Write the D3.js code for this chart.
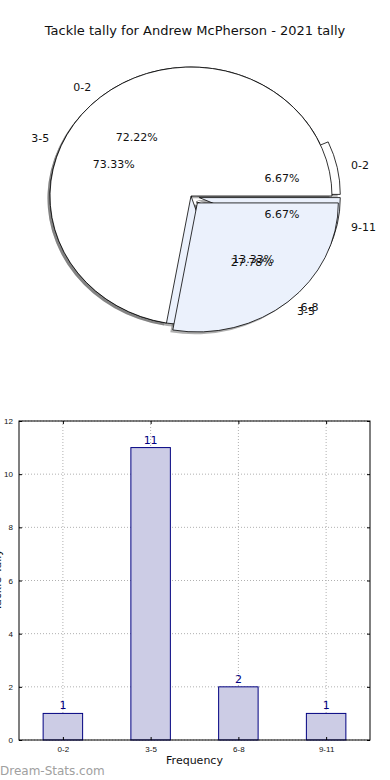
<!DOCTYPE html>
<html>
<head>
<meta charset="utf-8">
<script src="https://cdnjs.cloudflare.com/ajax/libs/d3/7.8.5/d3.min.js"></script>
<style>
  html, body { margin: 0; padding: 0; background: #fff; }
  svg { display: block; font-family: "DejaVu Sans", sans-serif; }
</style>
</head>
<body>
<div id="chart"></div>
<script>
// bins used by both charts
const categories = ['0-2', '3-5', '6-8', '9-11'];
const tallyValues = [1, 11, 2, 1];

// first pie (two slices)
const pieACategories = ['0-2', '3-5'];
const pieAValues = [13, 5];
const pieAExplode = [0, 0.07];
const pieAColors = ['#ffffff', '#ebf1fc'];

// second pie uses the tallies
const pieBExplode = [0.06, 0, 0.06, 0.06];
const pieBColors = ['#ffffff', '#ebf1fc', '#ffffff', '#ebf1fc'];

const yTicks = [0, 2, 4, 6, 8, 10, 12];

const W = 390, H = 780;
const svg = d3.select('#chart').append('svg').attr('width', W).attr('height', H);

svg.append('text')
    .attr('x', 195).attr('y', 35)
    .attr('text-anchor', 'middle')
    .style('font-size', '13px')
    .attr('fill', '#111')
    .text('Tackle tally for Andrew McPherson - 2021 tally');

// --- pies (ellipse: unit arcs scaled) ---
const cx = 191, cy = 196, rx = 141, ry = 129;
const arcUnit = d3.arc().innerRadius(0).outerRadius(1);
// matplotlib style: start at east, go counter-clockwise
const pieGen = d3.pie().sort(null).startAngle(Math.PI / 2).endAngle(Math.PI / 2 - 2 * Math.PI);

function buildPie(cats, values, explode, colors) {
    const total = d3.sum(values);
    return pieGen(values).map((d, i) => {
        const mid = (d.startAngle + d.endAngle) / 2;
        const ux = Math.sin(mid), uy = -Math.cos(mid);
        return {
            arc: d, cat: cats[i], color: colors[i],
            pct: (100 * values[i] / total).toFixed(2) + '%',
            ux, uy, ex: explode[i] * ux, ey: explode[i] * uy
        };
    });
}

const pieA = buildPie(pieACategories, pieAValues, pieAExplode, pieAColors);
const pieB = buildPie(categories, tallyValues, pieBExplode, pieBColors);

const pieLayer = svg.append('g').attr('transform', `translate(${cx},${cy}) scale(${rx},${ry})`);

// shadows first
[pieB, pieA].forEach(p => {
    pieLayer.append('g').selectAll('path').data(p).enter().append('path')
        .attr('transform', d => `translate(${d.ex - 0.018},${d.ey + 0.018})`)
        .attr('d', d => arcUnit(d.arc))
        .attr('fill', '#4d4d4d')
        .attr('fill-opacity', 0.45);
});

// wedges: second pie underneath, first on top
[pieB, pieA].forEach(p => {
    pieLayer.append('g').selectAll('path').data(p).enter().append('path')
        .attr('transform', d => `translate(${d.ex},${d.ey})`)
        .attr('d', d => arcUnit(d.arc))
        .attr('fill', d => d.color)
        .attr('stroke', '#000')
        .attr('stroke-width', 0.8)
        .attr('vector-effect', 'non-scaling-stroke');
});

// labels above all wedges
[pieB, pieA].forEach(p => {
    const g = svg.append('g').style('font-size', '11px').attr('fill', '#111');
    g.selectAll('.lab').data(p).enter().append('text')
        .attr('x', d => cx + rx * (1.1 * d.ux + d.ex))
        .attr('y', d => cy + ry * (1.1 * d.uy + d.ey))
        .attr('dy', '0.35em')
        .attr('text-anchor', d => d.ux > 0 ? 'start' : 'end')
        .text(d => d.cat);
    g.selectAll('.pct').data(p).enter().append('text')
        .attr('x', d => cx + rx * (0.6 * d.ux + d.ex))
        .attr('y', d => cy + ry * (0.6 * d.uy + d.ey))
        .attr('dy', '0.35em')
        .attr('text-anchor', 'middle')
        .text(d => d.pct);
});

// --- bar chart ---
const plot = { left: 19, right: 370, top: 421, bottom: 740 };
const x = d3.scalePoint().domain(categories).range([plot.left, plot.right]).padding(0.5);
const y = d3.scaleLinear().domain([0, 12]).range([plot.bottom, plot.top]);
const barW = x.step() * 0.45;

const grid = svg.append('g').attr('stroke', '#b0b0b0').attr('stroke-width', 1).attr('stroke-dasharray', '1,2');
grid.selectAll('.gy').data(yTicks).enter().append('line')
    .attr('x1', plot.left).attr('x2', plot.right)
    .attr('y1', d => y(d)).attr('y2', d => y(d));
grid.selectAll('.gx').data(categories).enter().append('line')
    .attr('x1', d => x(d)).attr('x2', d => x(d))
    .attr('y1', plot.top).attr('y2', plot.bottom);

svg.append('g').selectAll('rect').data(tallyValues).enter().append('rect')
    .attr('x', (d, i) => x(categories[i]) - barW / 2)
    .attr('y', d => y(d))
    .attr('width', barW)
    .attr('height', d => y(0) - y(d))
    .attr('fill', '#cccce5')
    .attr('stroke', '#000080')
    .attr('stroke-width', 1);

svg.append('g').selectAll('text').data(tallyValues).enter().append('text')
    .attr('x', (d, i) => x(categories[i]))
    .attr('y', d => y(d) - 4)
    .attr('text-anchor', 'middle')
    .attr('fill', '#000080')
    .style('font-size', '11px')
    .text(d => d);

// axes
const yAxis = svg.append('g').attr('transform', `translate(${plot.left},0)`)
    .call(d3.axisLeft(y).tickValues(yTicks).tickSize(-3).tickPadding(6));
yAxis.select('.domain').remove();
yAxis.selectAll('text').style('font-size', '8px').attr('fill', '#111');
yAxis.selectAll('line').attr('stroke', '#000');

const yAxisR = svg.append('g').attr('transform', `translate(${plot.right},0)`)
    .call(d3.axisRight(y).tickValues(yTicks).tickSize(-3).tickFormat(''));
yAxisR.select('.domain').remove();

const xAxis = svg.append('g').attr('transform', `translate(0,${plot.bottom})`)
    .call(d3.axisBottom(x).tickSize(-3).tickPadding(6));
xAxis.select('.domain').remove();
xAxis.selectAll('text').style('font-size', '8px').attr('fill', '#111');

const xAxisT = svg.append('g').attr('transform', `translate(0,${plot.top})`)
    .call(d3.axisTop(x).tickSize(-3).tickFormat(''));
xAxisT.select('.domain').remove();

svg.append('rect')
    .attr('x', plot.left).attr('y', plot.top)
    .attr('width', plot.right - plot.left).attr('height', plot.bottom - plot.top)
    .attr('fill', 'none').attr('stroke', '#000').attr('stroke-width', 1);

svg.append('text')
    .attr('x', (plot.left + plot.right) / 2).attr('y', 764)
    .attr('text-anchor', 'middle')
    .style('font-size', '11px')
    .attr('fill', '#111')
    .text('Frequency');

svg.append('text')
    .attr('transform', 'translate(1,580) rotate(-90)')
    .attr('text-anchor', 'middle')
    .style('font-size', '11px')
    .attr('fill', '#111')
    .text('Tackle Tally');

svg.append('text')
    .attr('x', 0).attr('y', 775)
    .style('font-size', '12px')
    .attr('fill', '#a0a0a0')
    .text('Dream-Stats.com');
</script>
</body>
</html>
